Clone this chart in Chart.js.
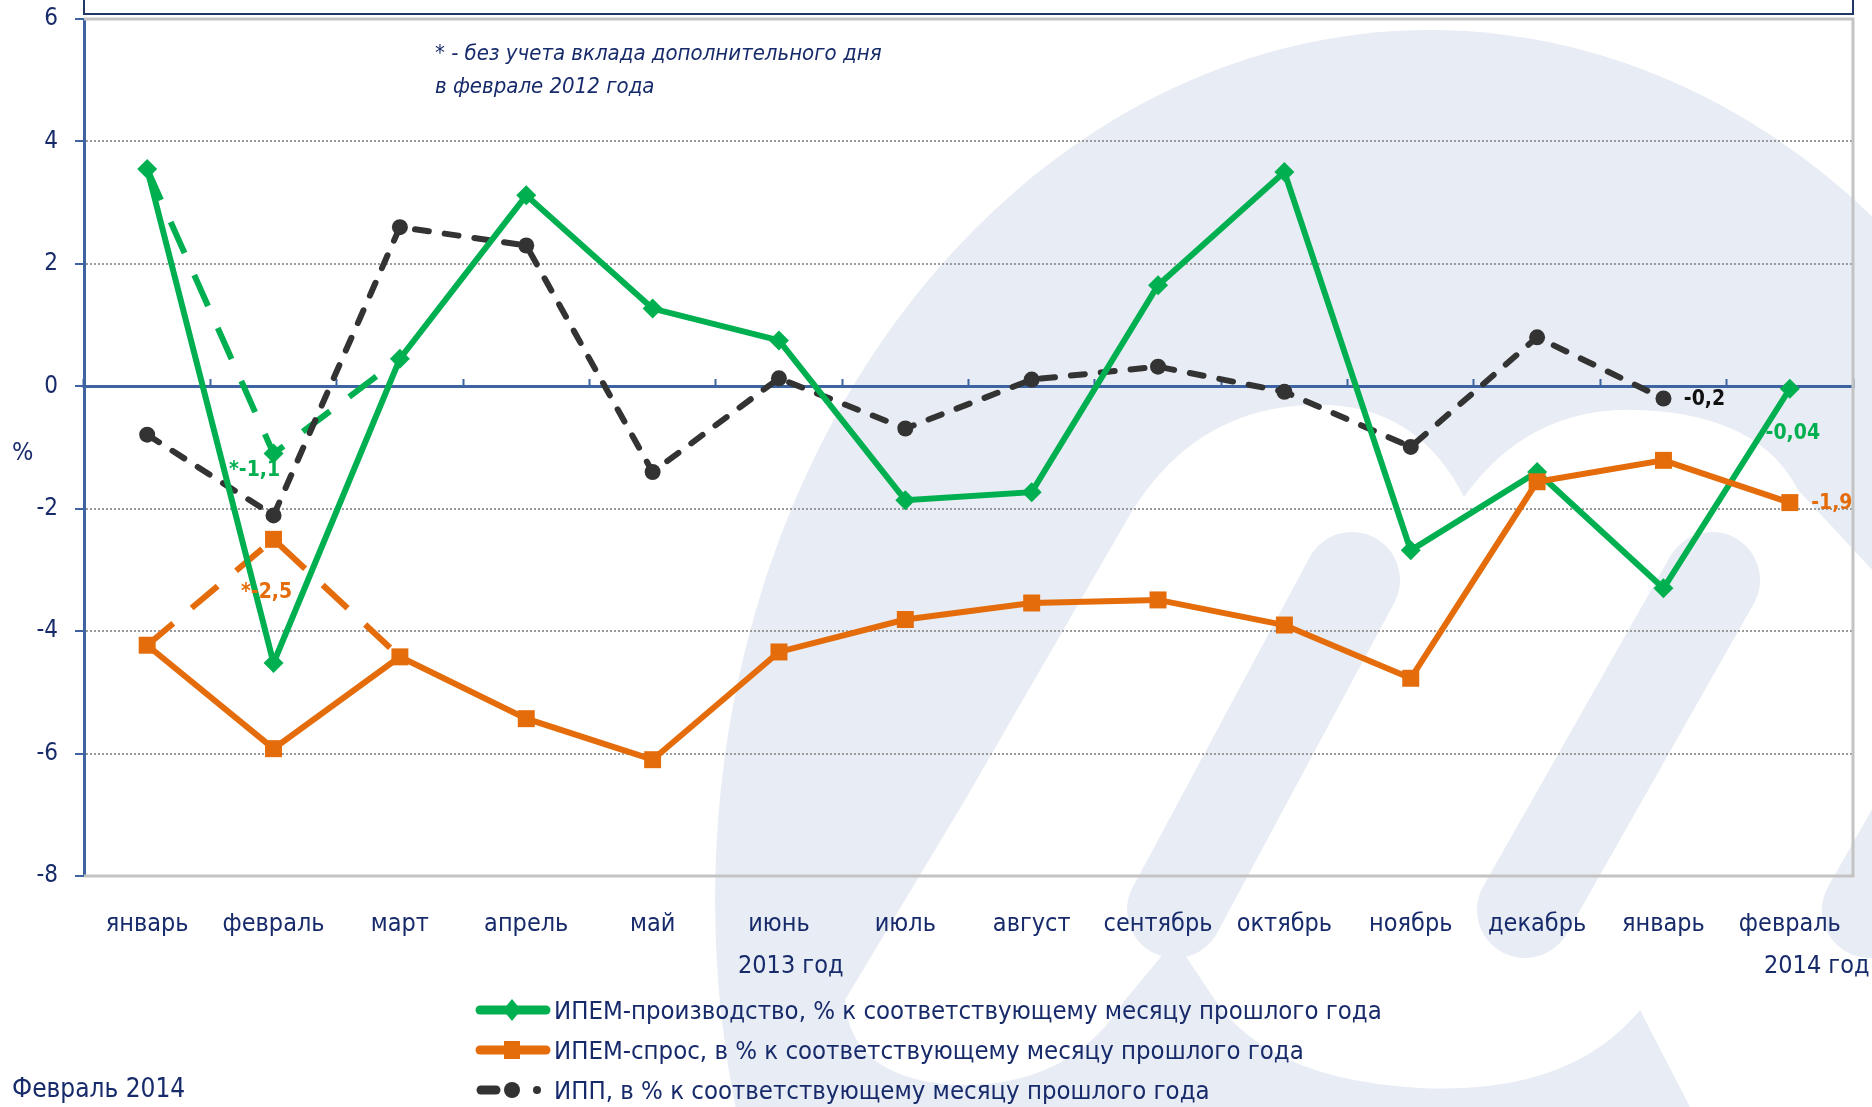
<!DOCTYPE html>
<html lang="ru">
<head>
<meta charset="utf-8">
<title>ИПЕМ и ИПП</title>
<script src="https://cdn.jsdelivr.net/npm/chart.js@4.4.1/dist/chart.umd.min.js"></script>
<style>
  html, body { margin: 0; padding: 0; background: #fff; }
  #wrap { position: relative; width: 1872px; height: 1107px; overflow: hidden;
          font-family: 'DejaVu Sans Condensed', 'Liberation Sans Narrow', 'Arial Narrow', sans-serif; color: #172b6b; }
  #fon, #grafik { position: absolute; left: 0; top: 0; }
  .txt { position: absolute; white-space: nowrap; line-height: 1; }
  #kasten { position: absolute; left: 83px; top: -40px; width: 1767px; height: 51px; border: 2.5px solid #1f3864; }
  #legende { position: absolute; left: 474px; top: 990px; }
  #legende .zeile { display: flex; align-items: center; height: 40px; font-size: 25.5px; }
  #legende svg { margin-right: 2px; }
</style>
</head>
<body>
<div id="wrap">
  <svg id="fon" width="1872" height="1107">
    <ellipse cx="1430" cy="900" rx="715" ry="870" fill="#e8ecf4"/>
    <path d="M 1131 513 Q 1200 400 1330 405 Q 1420 410 1464 497 Q 1530 405 1640 410 Q 1760 415 1798 490 L 1900 600 L 1900 1107 L 1690 1107 L 1640 1010 Q 1570 1095 1420 1088 Q 1270 1080 1215 1000 L 1175 940 L 1125 1000 Q 1070 1088 955 1085 Q 850 1078 845 1000 L 965 800 Z" fill="#fff"/>
    <g stroke="#e8ecf4" stroke-width="96" stroke-linecap="round">
      <line x1="1352" y1="580" x2="1175" y2="910"/>
      <line x1="1712" y1="580" x2="1525" y2="910"/>
      <line x1="2058" y1="580" x2="1870" y2="910"/>
    </g>
  </svg>
  <div id="kasten"></div>
  <canvas id="grafik" width="1872" height="1107"></canvas>
  <div class="txt" style="left:435px; top:42px; font-size:22px; font-style:italic;">* - без учета вклада дополнительного дня</div>
  <div class="txt" style="left:435px; top:75px; font-size:22px; font-style:italic;">в феврале 2012 года</div>
  <div class="txt" style="left:12px; top:439px; font-size:25px;">%</div>
  <div class="txt" style="left:738px; top:952px; font-size:25px;">2013 год</div>
  <div class="txt" style="left:1764px; top:952px; font-size:25px;">2014 год</div>
  <div class="txt" style="left:12px; top:1075px; font-size:26px;">Февраль 2014</div>
  <div id="legende"></div>
</div>
<script>
// Месяцы: январь 2013 - февраль 2014
var monate = ['январь', 'февраль', 'март', 'апрель', 'май', 'июнь', 'июль', 'август', 'сентябрь', 'октябрь', 'ноябрь', 'декабрь', 'январь', 'февраль'];

var ipemProizvodstvo = [3.55, -4.52, 0.45, 3.12, 1.27, 0.75, -1.86, -1.73, 1.65, 3.5, -2.68, -1.4, -3.3, -0.04];
var ipemSpros = [-4.23, -5.92, -4.42, -5.43, -6.1, -4.34, -3.81, -3.54, -3.49, -3.9, -4.77, -1.56, -1.21, -1.9];
var ipp = [-0.79, -2.11, 2.6, 2.3, -1.4, 0.13, -0.69, 0.11, 0.32, -0.09, -0.99, 0.8, -0.2, null];

// без учета дополнительного дня в феврале 2012 года
var proizvodstvoBezDnya = [3.55, -1.1, 0.45, null, null, null, null, null, null, null, null, null, null, null];
var sprosBezDnya = [-4.23, -2.5, -4.42, null, null, null, null, null, null, null, null, null, null, null];

var serii = [
    'ИПЕМ-производство, % к соответствующему месяцу прошлого года',
    'ИПЕМ-спрос, в % к соответствующему месяцу прошлого года',
    'ИПП, в % к соответствующему месяцу прошлого года'
];

var yMin = -8, yMax = 6, yShag = 2;

// подписи значений: набор данных, точка, текст
var podpisi = [
    { nabor: 3, tochka: 1, tekst: '*-1,1' },
    { nabor: 4, tochka: 1, tekst: '*-2,5' },
    { nabor: 2, tochka: 12, tekst: '-0,2' },
    { nabor: 0, tochka: 13, tekst: '-0,04' },
    { nabor: 1, tochka: 13, tekst: '-1,9' }
];

var ZELENYJ = '#00b050', ORANZH = '#e46c0a', CHERNYJ = '#333333', SINIJ = '#3d64a0', TEKST = '#172b6b';
var SHRIFT = "'DejaVu Sans Condensed', 'Liberation Sans Narrow', 'Arial Narrow', sans-serif";
var smeshcheniya = [[-19, 17], [-7, 53], [41, 1], [3, 45], [42, 1]];
var cvetPodpisi = [ZELENYJ, ORANZH, '#111111', ZELENYJ, ORANZH];

var ramka = {
    id: 'ramka',
    beforeDatasetsDraw: function(chart) {
        var a = chart.chartArea, ctx = chart.ctx;
        ctx.save();
        ctx.strokeStyle = '#c3c3c3';
        ctx.lineWidth = 3;
        ctx.beginPath();
        ctx.moveTo(a.left, a.top); ctx.lineTo(a.right, a.top);
        ctx.lineTo(a.right, a.bottom); ctx.lineTo(a.left, a.bottom);
        ctx.stroke();
        ctx.restore();
    }
};

var znacheniya = {
    id: 'znacheniya',
    afterDatasetsDraw: function(chart) {
        var ctx = chart.ctx;
        ctx.save();
        ctx.font = 'bold 21px ' + SHRIFT;
        ctx.textAlign = 'center';
        ctx.textBaseline = 'middle';
        podpisi.forEach(function(p, k) {
            var el = chart.getDatasetMeta(p.nabor).data[p.tochka];
            ctx.fillStyle = cvetPodpisi[k];
            ctx.fillText(p.tekst, el.x + smeshcheniya[k][0], el.y + smeshcheniya[k][1]);
        });
        ctx.restore();
    }
};

var ctx = document.getElementById('grafik').getContext('2d');
var grafik = new Chart(ctx, {
    type: 'line',
    data: {
        labels: monate,
        datasets: [
            { label: serii[0], data: ipemProizvodstvo, borderColor: ZELENYJ, backgroundColor: ZELENYJ, borderWidth: 6,
              pointStyle: 'rectRot', pointRadius: 10, pointBorderWidth: 0, order: 1 },
            { label: serii[1], data: ipemSpros, borderColor: ORANZH, backgroundColor: ORANZH, borderWidth: 6,
              pointStyle: 'rect', pointRadius: 12, pointBorderWidth: 0, order: 0 },
            { label: serii[2], data: ipp, borderColor: CHERNYJ, backgroundColor: CHERNYJ, borderWidth: 6,
              borderDash: [14, 16], borderCapStyle: 'round', pointStyle: 'circle', pointRadius: 8, pointBorderWidth: 0, order: 2 },
            { label: 'star1', data: proizvodstvoBezDnya, borderColor: ZELENYJ, backgroundColor: ZELENYJ, borderWidth: 6,
              borderDash: [34, 24], pointStyle: 'rectRot', pointRadius: [0, 10, 0], pointBorderWidth: 0, order: 3 },
            { label: 'star2', data: sprosBezDnya, borderColor: ORANZH, backgroundColor: ORANZH, borderWidth: 6,
              borderDash: [34, 24], pointStyle: 'rect', pointRadius: [0, 12, 0], pointBorderWidth: 0, order: 3 }
        ]
    },
    options: {
        responsive: false,
        animation: false,
        events: [],
        layout: { padding: { top: 19, right: 19, left: 0, bottom: 0 } },
        plugins: { legend: { display: false }, tooltip: { enabled: false } },
        scales: {
            x: {
                offset: true,
                grid: { display: false },
                border: { display: false },
                ticks: { color: TEKST, font: { family: SHRIFT, size: 25 }, padding: 25, maxRotation: 0, autoSkip: false },
                afterFit: function(s) { s.height = 231; }
            },
            x2: {
                type: 'category',
                labels: monate,
                position: { y: 0 },
                offset: true,
                grid: { offset: true, drawOnChartArea: false, drawTicks: true, tickLength: -9, tickColor: SINIJ, tickWidth: 2 },
                border: { display: true, color: SINIJ, width: 3 },
                ticks: { display: false }
            },
            y: {
                min: yMin, max: yMax,
                ticks: { stepSize: yShag, color: TEKST, font: { family: SHRIFT, size: 24 }, padding: 17,
                         callback: function(v) { return String(v); } },
                grid: {
                    color: function(c) {
                        var v = c.tick ? c.tick.value : null;
                        return (v === 0 || v === yMin || v === yMax) ? 'rgba(0,0,0,0)' : '#9a9a9a';
                    },
                    lineWidth: 2, tickColor: SINIJ, tickWidth: 2, tickLength: 9
                },
                border: { display: true, color: SINIJ, width: 3, dash: [2, 2] },
                afterFit: function(s) { s.width = 84; s.paddingTop = 0; s.paddingBottom = 0; }
            }
        }
    },
    plugins: [ramka, znacheniya]
});

// легенда
function zeichenMarker(ds) {
    var s = '<svg width="78" height="24">';
    if (ds.borderDash && ds.borderDash.length) {
        s += '<line x1="7" y1="12" x2="22" y2="12" stroke="' + ds.borderColor + '" stroke-width="9" stroke-linecap="round"/>';
        s += '<circle cx="38" cy="12" r="8" fill="' + ds.borderColor + '"/>';
        s += '<circle cx="63" cy="12" r="4" fill="' + ds.borderColor + '"/>';
    } else {
        s += '<line x1="6" y1="12" x2="72" y2="12" stroke="' + ds.borderColor + '" stroke-width="9" stroke-linecap="round"/>';
        if (ds.pointStyle === 'rectRot') {
            s += '<polygon points="38,1 47,12 38,23 29,12" fill="' + ds.borderColor + '"/>';
        } else {
            s += '<rect x="30" y="3" width="16" height="18" fill="' + ds.borderColor + '"/>';
        }
    }
    return s + '</svg>';
}
var leg = document.getElementById('legende');
grafik.data.datasets.slice(0, 3).forEach(function(ds) {
    var z = document.createElement('div');
    z.className = 'zeile';
    z.innerHTML = zeichenMarker(ds) + '<span>' + ds.label + '</span>';
    leg.appendChild(z);
});
</script>
</body>
</html>
